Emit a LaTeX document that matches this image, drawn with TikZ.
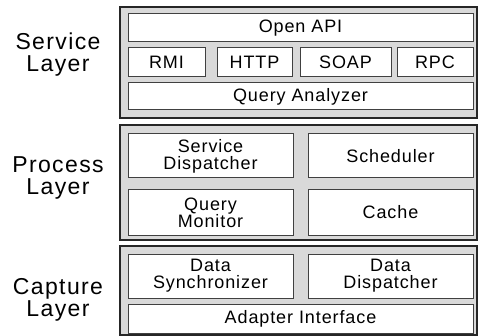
\documentclass[tikz,border=0pt]{standalone}
\usepackage{fontspec}
\setmainfont{Liberation Sans}
\usepackage{tikz}
\begin{document}
\begin{tikzpicture}[
            x=1pt, y=-1pt,
            layer box/.style={draw=black!85, line width=1.6pt, fill=black!15},
            part box/.style={draw=black!75, line width=1pt, fill=white, inner sep=0pt,
                align=center, font=\fontsize{18}{17}\selectfont\addfontfeature{LetterSpace=5}},
            layer label/.style={align=center, font=\fontsize{23}{22}\selectfont\addfontfeature{LetterSpace=6}}
        ]
        \useasboundingbox (0,0) rectangle (478,336);
        % layers
        \draw[layer box] (120,7) rectangle (477,118);
        \draw[layer box] (120,125) rectangle (477,240);
        \draw[layer box] (120,246) rectangle (477,335);
        \node[layer label] (service) at (58,55) {Service\\Layer};
        \node[layer label] (process) at (58,178) {Process\\Layer};
        \node[layer label] (capture) at (58,300) {Capture\\Layer};
        % service layer
        \node[part box, minimum width=345pt, minimum height=28pt] (openapi) at (300.5,28) {Open API};
        \node[part box, minimum width=77pt, minimum height=29pt] (rmi) at (166.5,62.5) {RMI};
        \node[part box, minimum width=75pt, minimum height=29pt] (http) at (254.5,62.5) {HTTP};
        \node[part box, minimum width=91pt, minimum height=29pt] (soap) at (345.5,62.5) {SOAP};
        \node[part box, minimum width=76pt, minimum height=29pt] (rpc) at (435,62.5) {RPC};
        \node[part box, minimum width=345pt, minimum height=27pt] (analyzer) at (300.5,96.5) {Query Analyzer};
        % process layer
        \node[part box, minimum width=165pt, minimum height=44pt] (sdisp) at (210.5,156) {Service\\Dispatcher};
        \node[part box, minimum width=165pt, minimum height=44pt] (sched) at (390.5,156) {Scheduler};
        \node[part box, minimum width=165pt, minimum height=45pt] (monitor) at (210.5,212.5) {Query\\Monitor};
        \node[part box, minimum width=165pt, minimum height=45pt] (cache) at (390.5,212.5) {Cache};
        % capture layer
        \node[part box, minimum width=165pt, minimum height=44pt] (sync) at (210.5,276) {Data\\Synchronizer};
        \node[part box, minimum width=165pt, minimum height=44pt] (ddisp) at (390.5,276) {Data\\Dispatcher};
        \node[part box, minimum width=345pt, minimum height=29pt] (adapter) at (300.5,318.5) {Adapter Interface};
    \end{tikzpicture}
\end{document}
